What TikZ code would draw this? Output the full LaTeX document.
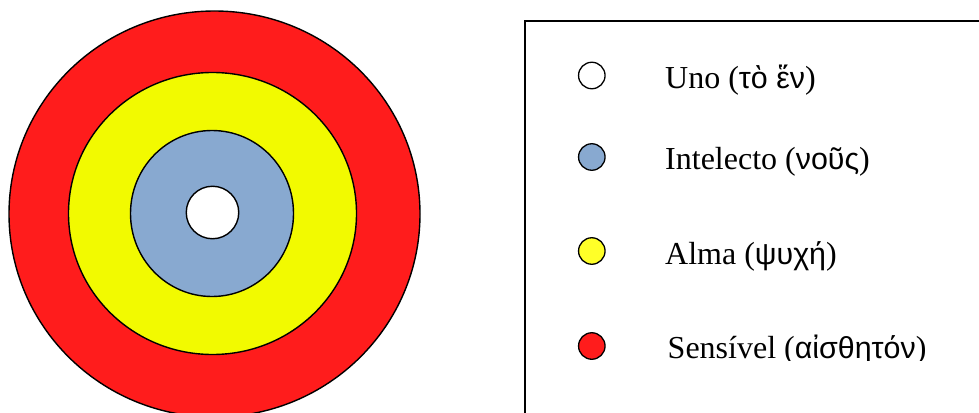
\documentclass[tikz,border=0pt]{standalone}
\usepackage{fontspec}
\setmainfont{Liberation Serif}
\newfontfamily\grk[Script=Greek,Scale=0.95]{Liberation Sans}
\usetikzlibrary{shapes.geometric}
\definecolor{redc}{RGB}{255,28,28}
\definecolor{yelc}{RGB}{242,250,0}
\definecolor{yell}{RGB}{255,255,40}
\definecolor{bluc}{RGB}{136,169,208}
\begin{document}
\begin{tikzpicture}[x=1pt,y=-1pt,
  ring/.style={ellipse,draw=black,line width=1.4pt,inner sep=0pt,outer sep=0pt},
  dot/.style={circle,draw=black,line width=1.3pt,minimum size=26.5pt,inner sep=0pt},
  lab/.style={anchor=base west,inner sep=0pt,font=\fontsize{32}{38}\selectfont}]
\useasboundingbox (0,0) rectangle (979,412);
\clip (0,0) rectangle (979,412);
\fill[white] (0,0) rectangle (979,412);
% concentric rings
\node[ring,fill=redc,minimum width=411,minimum height=406] (sens) at (214.5,214) {};
\node[ring,fill=yelc,minimum width=288,minimum height=282] (alma) at (212.5,213.5) {};
\node[ring,fill=bluc,minimum width=163,minimum height=166] (intel) at (212,213.5) {};
\node[ring,fill=white,minimum width=52.5,minimum height=52.5] (uno) at (212.5,212.5) {};
% legend box
\draw[line width=1.6pt] (990,21) -- (525,21) -- (525,430);
\node[dot,fill=white] (d1) at (591.8,75.5) {};
\node[dot,fill=bluc] (d2) at (591.8,157) {};
\node[dot,fill=yell] (d3) at (591.8,251) {};
\node[dot,fill=redc] (d4) at (591.8,346) {};
\node[lab] (t1) at (665,88.3) {Uno ({\grk τὸ ἕν})};
\node[lab] (t2) at (665,169.3) {Intelecto ({\grk νοῦς})};
\node[lab] (t3) at (665,264.3) {Alma ({\grk ψυχή})};
\begin{scope}
\clip (640,300) rectangle (979,360.5);
\node[lab] (t4) at (667.5,358.3) {Sensível ({\grk αἰσθητόν})};
\end{scope}
\end{tikzpicture}
\end{document}
